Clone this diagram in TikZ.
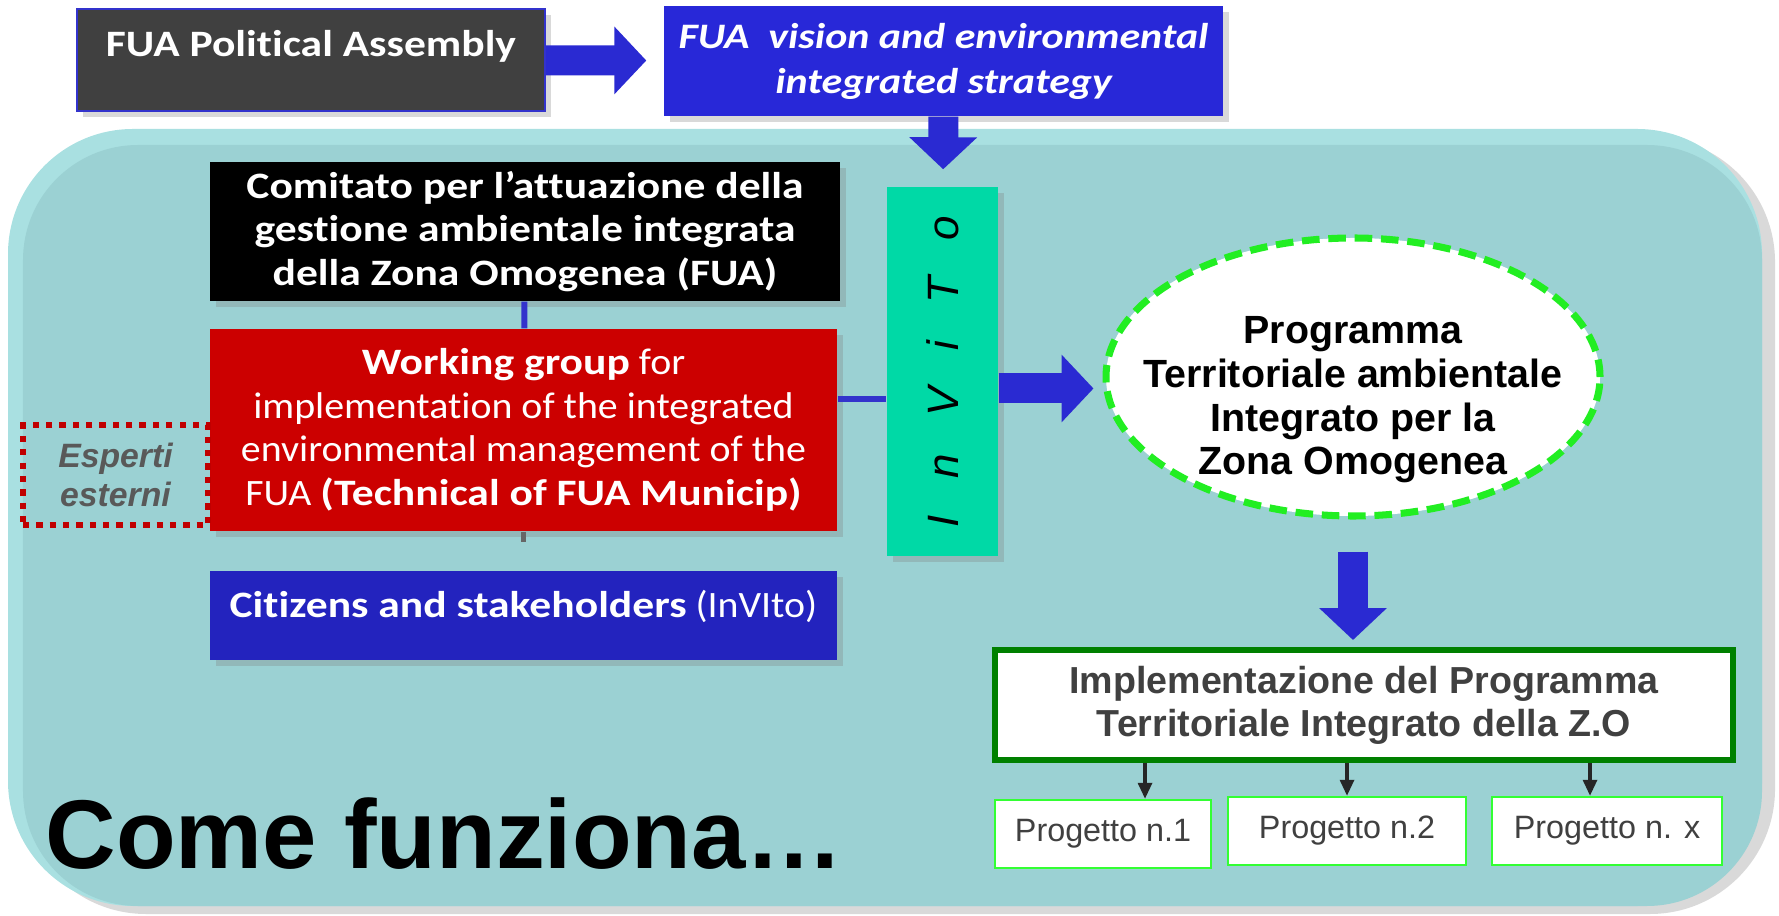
\documentclass[tikz,border=0pt]{standalone}
\usepackage{fontspec}
\setmainfont{Liberation Sans}
\newfontfamily\calfont[FakeStretch=1.07, Ligatures={NoCommon}, BoldFeatures={FakeStretch=1.17}, BoldItalicFeatures={FakeStretch=1.17}]{Carlito}
\usepackage{tikz}
\usetikzlibrary{shapes.geometric,arrows.meta,shadows}
\usetikzlibrary{calc}

\definecolor{panel}{HTML}{9BD1D3}
\definecolor{panellight}{HTML}{A9E0E1}
\definecolor{panelshadow}{HTML}{D9D9D9}
\definecolor{assemblygrey}{HTML}{404040}
\definecolor{visionblue}{HTML}{2828D8}
\definecolor{citizenblue}{HTML}{2323BE}
\definecolor{arrowblue}{HTML}{2A2AD2}
\definecolor{linkblue}{HTML}{3333CC}
\definecolor{workred}{HTML}{CC0000}
\definecolor{invitogreen}{HTML}{00D9A6}
\definecolor{ellipsegreen}{HTML}{22EE22}
\definecolor{impgreen}{HTML}{008000}
\definecolor{projgreen}{HTML}{33FF33}
\definecolor{expertred}{HTML}{C00000}
\definecolor{textgrey}{HTML}{404040}
\definecolor{experttext}{HTML}{595959}

\begin{document}
\begin{tikzpicture}[
  box/.style={rectangle, inner sep=0pt, text=white, align=center,
    font=\calfont\fontsize{10.6}{12.4}\selectfont,
    drop shadow={shadow xshift=.6mm, shadow yshift=-.6mm, opacity=.3}},
  block/.style={arrowblue, line width=0.3cm, -{Triangle[length=0.32cm, width=0.66cm]}},
  link/.style={linkblue, line width=1.7pt},
  tip/.style={black!85, line width=0.9pt, -{Triangle[length=1.6mm, width=1.4mm]}},
  project/.style={rectangle, draw=projgreen, line width=0.7pt, fill=white, text=textgrey,
    font=\fontsize{9.2}{11}\selectfont, minimum height=0.68cm}
]
\useasboundingbox (0,0) rectangle (17.79,-9.16);

\fill[panelshadow, rounded corners=1.25cm] (0.21,-1.37) rectangle (17.75,-9.14);
\fill[panellight, rounded corners=1.25cm] (0.08,-1.29) rectangle (17.62,-9.06);
\fill[panel, rounded corners=1.15cm] (0.23,-1.45) rectangle (17.62,-9.06);

\node[box, fill=assemblygrey, draw=linkblue, line width=0.6pt, minimum width=4.68cm,
  text height=0.48cm, text depth=0.54cm] (assembly) at (3.11,-0.60) {\bfseries FUA Political Assembly};
\node[box, fill=visionblue, minimum width=5.59cm, minimum height=1.10cm,
  font=\calfont\bfseries\itshape\fontsize{10.2}{12.8}\selectfont] (vision) at (9.435,-0.61)
  {FUA\ \ vision and environmental\\integrated strategy};
\node[box, fill=black, minimum width=6.30cm, minimum height=1.39cm] (comitato) at (5.25,-2.315)
  {\bfseries Comitato per l’attuazione della\\\bfseries gestione ambientale integrata\\\bfseries della Zona Omogenea (FUA)};
\node[box, fill=workred, minimum width=6.27cm, minimum height=2.02cm] (working) at (5.235,-4.30)
  {\textbf{Working group} for\\implementation of the integrated\\environmental management of the\\FUA \textbf{(Technical of FUA Municip)}};
\node[box, fill=citizenblue, minimum width=6.27cm, text height=0.47cm, text depth=0.42cm] (citizens) at (5.235,-6.155)
  {\textbf{Citizens and stakeholders} (InVIto)};
\node[draw=expertred, line width=1.8pt, dash pattern=on 1.8pt off 2.0pt, minimum width=1.85cm,
  minimum height=1.0cm, align=center, text=experttext,
  font=\bfseries\itshape\fontsize{9.6}{11.2}\selectfont] (esperti) at (1.155,-4.75) {Esperti\\esterni};
\node[rectangle, fill=invitogreen, minimum width=1.11cm, minimum height=3.69cm, inner sep=0pt,
  drop shadow={shadow xshift=.6mm, shadow yshift=-.6mm, opacity=.3},
  font=\itshape\fontsize{12.5}{14}\selectfont] (invito) at (9.425,-3.715)
  {\rotatebox{90}{\spaceskip=10.5pt\relax I n V i T o}};
\node[ellipse, draw=ellipsegreen, line width=2pt, dash pattern=on 5pt off 2.5pt, fill=white,
  minimum width=4.94cm, minimum height=2.78cm, inner sep=0pt,
  label={[align=center, font=\bfseries\fontsize{11.2}{12.4}\selectfont, yshift=-0.23cm]center:{Programma\\Territoriale ambientale\\Integrato per la\\Zona Omogenea}}]
  (programma) at (13.53,-3.77) {};
\node[rectangle, draw=impgreen, line width=1.7pt, fill=white, minimum width=7.38cm, minimum height=1.10cm,
  align=center, text=textgrey, font=\bfseries\fontsize{10.7}{12.2}\selectfont] (impl) at (13.64,-7.05)
  {Implementazione del Programma\\Territoriale Integrato della Z.O};
\node[project, minimum width=2.16cm] (p1) at (11.03,-8.34) {Progetto n.1};
\node[project, minimum width=2.38cm] (p2) at (13.47,-8.31) {Progetto n.2};
\node[project, minimum width=2.30cm] (px) at (16.07,-8.31) {Progetto n. x};
\node[anchor=base west, inner sep=0pt, font=\bfseries\fontsize{27.8}{30}\selectfont] (title) at (0.45,-8.68) {Come funziona…};

\coordinate (invout) at ([yshift=-1.7mm]invito.east);
\coordinate (workout) at ([yshift=3.1mm]working.east);

\path[block]
(assembly) edge[shorten >=0.17cm] (vision)
(vision) edge[shorten >=0.17cm] (invito)
(invout) edge[shorten >=0.09cm] (invout -| programma.west)
(programma) edge[shorten <=0.32cm, shorten >=0.07cm] (programma.south |- impl.north)
;
\path[link]
(comitato) edge (working)
(workout) edge (workout -| invito.west)
;
\draw[black!60, line width=1.7pt] (working.south) -- ++(0,-0.1);
\path[tip]
([xshift=4.2mm]p1.north |- impl.south) edge ([xshift=4.2mm]p1.north)
(p2.north |- impl.south) edge (p2.north)
([xshift=-1.7mm]px.north |- impl.south) edge ([xshift=-1.7mm]px.north)
;
\end{tikzpicture}
\end{document}
